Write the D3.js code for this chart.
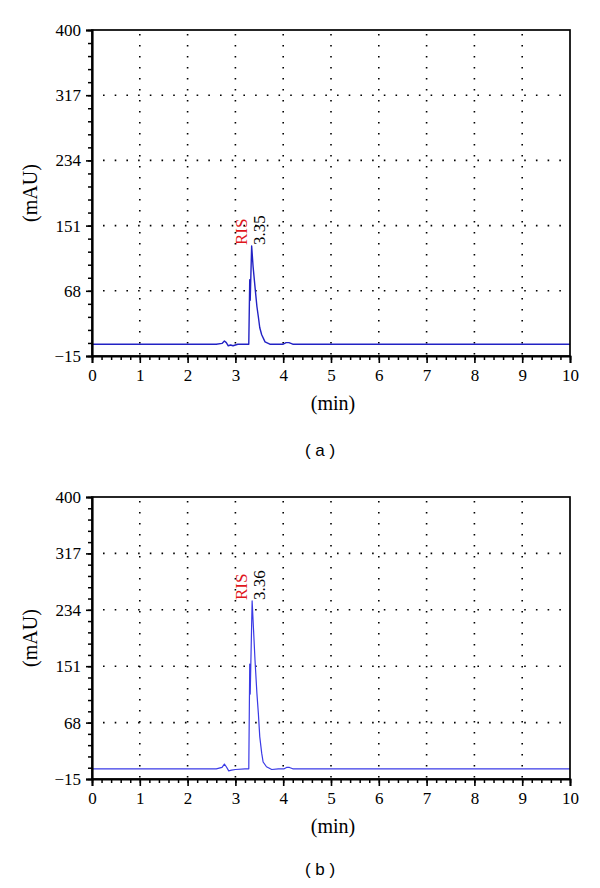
<!DOCTYPE html>
<html>
<head>
<meta charset="utf-8">
<script src="https://cdn.jsdelivr.net/npm/d3@7"></script>
<style>
  html, body { margin: 0; padding: 0; background: #fff; }
  svg { display: block; }
</style>
</head>
<body>
<svg id="chart" width="600" height="888"></svg>
<script>
// ---------- DATA ----------
const xTicks = [0, 1, 2, 3, 4, 5, 6, 7, 8, 9, 10];
const yTicks = [-15, 68, 151, 234, 317, 400];
const xGrid = [1, 2, 3, 4, 5, 6, 7, 8, 9];
const yGrid = [68, 151, 234, 317];

const timesA  = [0, 2.60, 2.72, 2.77, 2.81, 2.85, 2.90, 2.95, 3.05, 3.20, 3.28, 3.30, 3.31, 3.34, 3.37, 3.41, 3.45, 3.48, 3.51, 3.55, 3.62, 3.72, 3.85, 4.00, 4.06, 4.12, 4.20, 10];
const valuesA = [0, 0,    1,    4,    2,    -2,   -1,   -2,   0,    0,    0,    82,   56,   125,  99,   73,   48,   35,   21,   12,   3,    0,    0,    0,    2,    2,    0,    0];

const timesB  = [0, 2.60, 2.72, 2.77, 2.81, 2.86, 2.92, 3.00, 3.20, 3.28, 3.30, 3.31, 3.35, 3.38, 3.41, 3.45, 3.48, 3.51, 3.55, 3.58, 3.65, 3.76, 3.90, 4.02, 4.07, 4.13, 4.20, 10];
const valuesB = [0, 0,    2,    7,    3,    -3,   -2,   -1,   0,    0,    154,  110,  247,  204,  160,  111,  82,   47,   23,   10,   3,    -1,   0,    0,    2,    2,    0,    0];

const peakNames  = ["RIS", "RIS"];
const peakTimes  = ["3.35", "3.36"];
const panelNames = ["( a )", "( b )"];

// ---------- DRAW ----------
const svg = d3.select("#chart");
const serif = "'Liberation Serif', 'Times New Roman', serif";
const sans = "'Liberation Sans', Arial, sans-serif";

function drawPanel(opt) {
  const x = d3.scaleLinear().domain([0, 10]).range([92, 570]);
  const y = d3.scaleLinear().domain([-15, 400]).range([opt.bottom, opt.top]);
  const g = svg.append("g");

  // grid
  g.selectAll(".vg").data(xGrid).enter().append("line")
    .attr("x1", d => x(d)).attr("x2", d => x(d))
    .attr("y1", y(400)).attr("y2", y(-15))
    .attr("stroke", "#000").attr("stroke-width", 1.6)
    .attr("stroke-dasharray", "1.6,9.4").attr("stroke-dashoffset", -4);
  g.selectAll(".hg").data(yGrid).enter().append("line")
    .attr("x1", x(0)).attr("x2", x(10))
    .attr("y1", d => y(d)).attr("y2", d => y(d))
    .attr("stroke", "#000").attr("stroke-width", 1.6)
    .attr("stroke-dasharray", "1.6,10.1").attr("stroke-dashoffset", -11);

  // trace
  const line = d3.line().x(d => x(d[0])).y(d => y(d[1]));
  g.append("path")
    .datum(opt.times.map((t, i) => [t, opt.values[i]]))
    .attr("d", line)
    .attr("fill", "none")
    .attr("stroke", opt.color)
    .attr("stroke-width", opt.width)
    .attr("stroke-linejoin", "round");

  // frame
  g.append("rect")
    .attr("x", x(0)).attr("y", y(400))
    .attr("width", x(10) - x(0)).attr("height", y(-15) - y(400))
    .attr("fill", "none").attr("stroke", "#000").attr("stroke-width", 1.7);

  // axes: minor ticks
  const yMinor = d3.range(-15, 400.01, 83 / 5);
  const xMinor = d3.range(0, 10.001, 0.2);
  g.append("g").attr("transform", `translate(${x(0)},0)`)
    .call(d3.axisLeft(y).tickValues(yMinor).tickSize(4).tickFormat(""))
    .call(a => a.select(".domain").remove())
    .selectAll("line").attr("stroke-width", 1.5);
  g.append("g").attr("transform", `translate(0,${y(-15)})`)
    .call(d3.axisBottom(x).tickValues(xMinor).tickSize(4).tickFormat(""))
    .call(a => a.select(".domain").remove())
    .selectAll("line").attr("stroke-width", 1.5);

  // major ticks with labels
  const ya = g.append("g").attr("transform", `translate(${x(0)},0)`)
    .call(d3.axisLeft(y).tickValues(yTicks).tickSize(6).tickPadding(5)
      .tickFormat(d => d < 0 ? "\u2212" + Math.abs(d) : d));
  ya.select(".domain").attr("stroke-width", 2.2);
  ya.selectAll("line").attr("stroke-width", 1.6);
  ya.selectAll("text").style("font-family", serif).style("font-size", "17px").attr("fill", "#000");

  const xa = g.append("g").attr("transform", `translate(0,${y(-15)})`)
    .call(d3.axisBottom(x).tickValues(xTicks).tickSize(7).tickPadding(6));
  xa.select(".domain").attr("stroke-width", 1.8);
  xa.selectAll("line").attr("stroke-width", 1.6);
  xa.selectAll("text").style("font-family", serif).style("font-size", "17px").attr("fill", "#000");

  // axis titles
  g.append("text")
    .attr("transform", `translate(37,${(y(400) + y(-15)) / 2}) rotate(-90)`)
    .attr("text-anchor", "middle")
    .style("font-family", serif).style("font-size", "20px")
    .text("(mAU)");
  g.append("text")
    .attr("x", 333).attr("y", y(-15) + 54)
    .attr("text-anchor", "middle")
    .style("font-family", serif).style("font-size", "20px")
    .text("(min)");

  // peak labels
  const ly = y(opt.peak) - 1;
  g.append("text")
    .attr("transform", `translate(${x(3.24)},${ly}) rotate(-90)`)
    .style("font-family", serif).style("font-size", "17px").attr("fill", "#e0161b")
    .text(opt.name);
  g.append("text")
    .attr("transform", `translate(${x(3.62)},${ly}) rotate(-90)`)
    .style("font-family", serif).style("font-size", "17px").attr("fill", "#000")
    .text(opt.label);

  // panel letter
  g.append("text")
    .attr("x", 320).attr("y", opt.letterY)
    .attr("text-anchor", "middle")
    .style("font-family", sans).style("font-size", "17px")
    .style("white-space", "pre")
    .text(opt.panel);
}

drawPanel({ top: 30, bottom: 356, times: timesA, values: valuesA, peak: d3.max(valuesA),
  color: "#2222c4", width: 1.4, name: peakNames[0], label: peakTimes[0], panel: panelNames[0], letterY: 456 });
drawPanel({ top: 497, bottom: 779, times: timesB, values: valuesB, peak: d3.max(valuesB),
  color: "#3a3ae6", width: 1.2, name: peakNames[1], label: peakTimes[1], panel: panelNames[1], letterY: 875 });
</script>
</body>
</html>
